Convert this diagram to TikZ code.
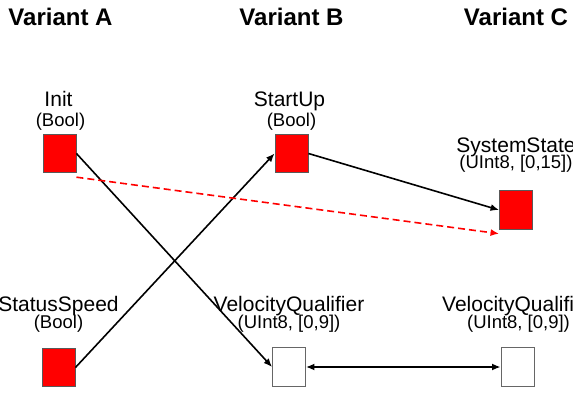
\documentclass[tikz,border=0pt]{standalone}
\usepackage{fontspec}
\setmainfont{Liberation Sans}
\usetikzlibrary{arrows.meta}
\tikzset{
  title/.style={anchor=base, font=\fontsize{24}{28}\selectfont\bfseries, inner sep=0pt},
  sname/.style={anchor=base, font=\fontsize{21}{25}\selectfont, inner sep=0pt},
  stype/.style={anchor=base, font=\fontsize{18.5}{22}\selectfont, inner sep=0pt},
  sig/.style={rectangle, minimum width=33pt, minimum height=38.5pt, inner sep=0pt, line width=0.9pt},
  boolsig/.style={sig, fill=red, draw=black!65},
  intsig/.style={sig, fill=white, draw=black!60},
  tip/.style={Latex[length=8.5pt,width=7pt]},
  link/.style={line width=1.6pt, -{Latex[length=8.5pt,width=7pt]}},
  dlink/.style={line width=1.6pt, {Latex[length=8.5pt,width=7pt]}-{Latex[length=8.5pt,width=7pt]}},
  altlink/.style={line width=1.6pt, red, dash pattern=on 7pt off 4pt, -{Latex[length=8.5pt,width=7pt]}}
}
\begin{document}
\begin{tikzpicture}[x=1pt, y=-1pt]
  \useasboundingbox (0,0) rectangle (573,393);

  % column headings
  \node[title] (hA) at (60.5,26) {Variant A};
  \node[title] (hB) at (291.5,26) {Variant B};
  \node[title] (hC) at (516,26) {Variant C};

  % signal boxes
  \node[boolsig] (init)    at (59.5,153.5) {};
  \node[boolsig] (startup) at (291.5,153.5) {};
  \node[boolsig] (sys)     at (516,210) {};
  \node[boolsig] (status)  at (58.5,367.5) {};
  \node[intsig]  (vqb)     at (289,367) {};
  \node[intsig]  (vqc)     at (517.5,367) {};

  % signal names and types
  \node[sname] (initN) at (58.5,107) {Init};
  \node[stype] (initT) at (60.5,126.5) {(Bool)};
  \node[sname] (startN) at (289.5,107) {StartUp};
  \node[stype] (startT) at (291.5,126.5) {(Bool)};
  \node[sname] (sysN) at (516,153) {SystemState};
  \node[stype] (sysT) at (516,168.5) {(UInt8, [0,15])};
  \node[sname] (statN) at (58.5,311) {StatusSpeed};
  \node[stype] (statT) at (58.5,328.5) {(Bool)};
  \node[sname] (vqbN) at (289,311) {VelocityQualifier};
  \node[stype] (vqbT) at (289,328.5) {(UInt8, [0,9])};
  \node[sname] (vqcN) at (517.5,311) {VelocityQualifier};
  \node[stype] (vqcT) at (518.5,328.5) {(UInt8, [0,9])};

  % mappings
  \draw[link] (init.east) -- (vqb.west);
  \draw[link] (status.east) -- (startup.west);
  \draw[link] (startup.east) -- (sys.west);
  \draw[altlink] ([yshift=-4pt]init.south east) -- ([yshift=-4pt]sys.south west);
  \draw[dlink] (vqb.east) -- (vqc.west);
\end{tikzpicture}
\end{document}
